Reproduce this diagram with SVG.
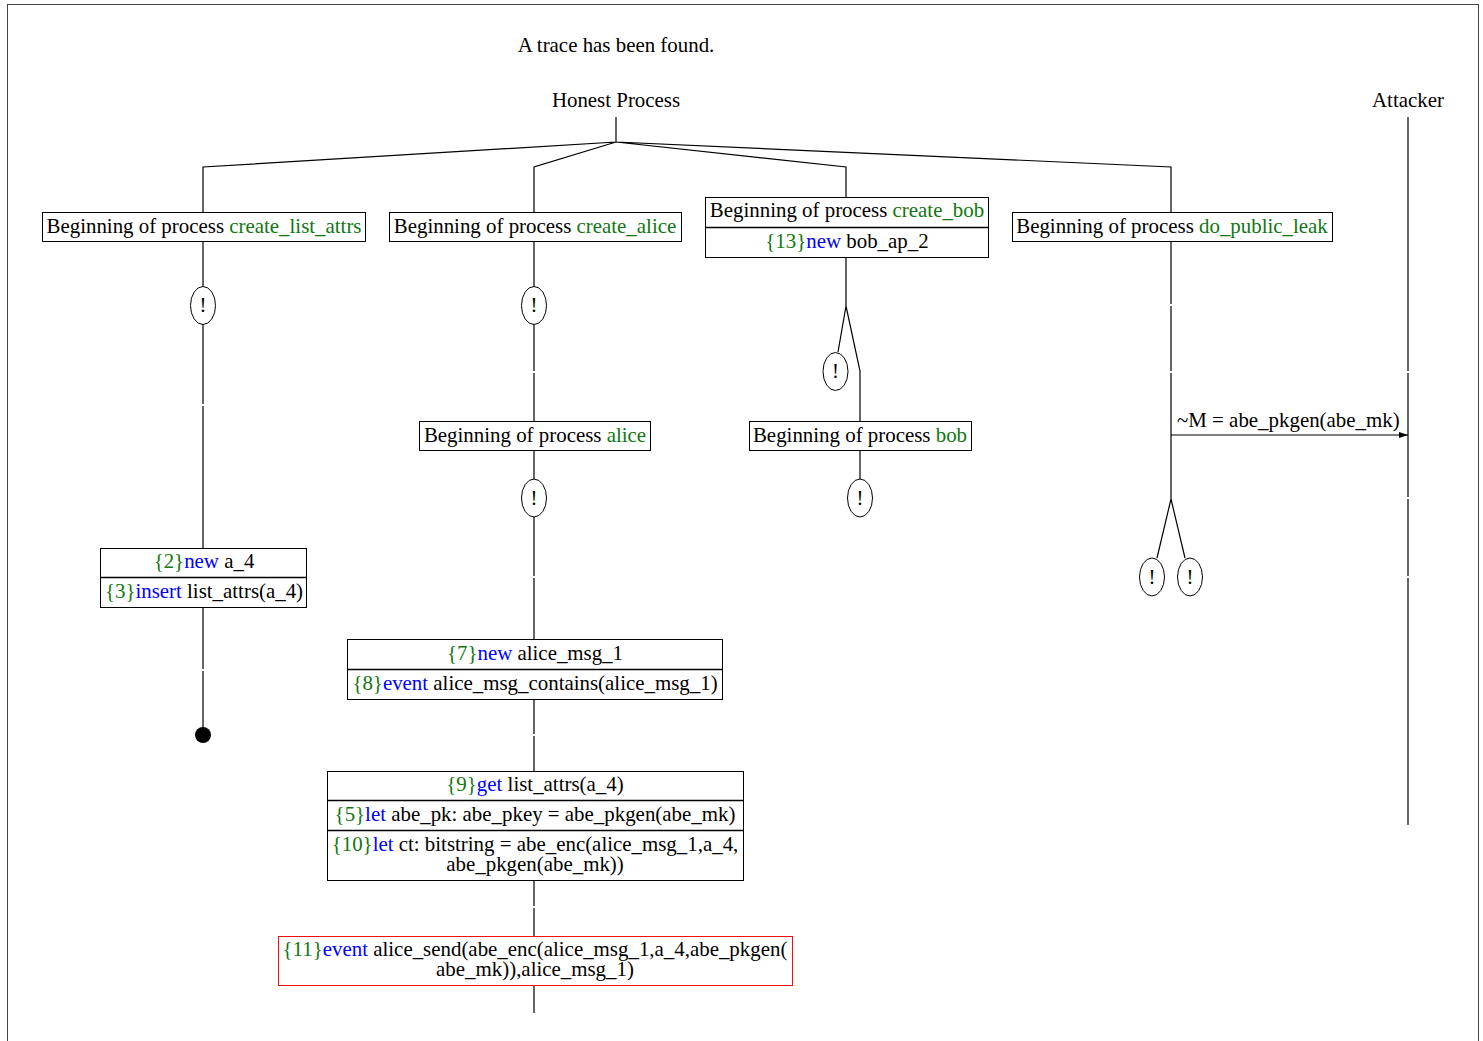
<svg xmlns="http://www.w3.org/2000/svg" width="1483" height="1041" viewBox="0 0 1483 1041">
<style>
text{font-family:"Liberation Serif","Times New Roman",serif;font-size:20.9px;fill:#000}
.c{text-anchor:middle}
.g{fill:#117711}
.b{fill:#0000ff}
.box{fill:#fff;stroke:#000;stroke-width:1}
.red{fill:#fff;stroke:#ee1111;stroke-width:1}
.ln{stroke:#000;stroke-width:1.2;fill:none}
.ell{fill:#fff;stroke:#000;stroke-width:1}
</style>
<defs>
<marker id="ah" markerWidth="10" markerHeight="8" refX="9" refY="4" orient="auto" markerUnits="userSpaceOnUse">
<path d="M0,1 L9,4 L0,7 z" fill="#000"/>
</marker>
</defs>
<rect x="7.5" y="4.5" width="1471" height="1060" fill="#fff" stroke="#444" stroke-width="1"/>
<text class="c" x="616" y="52">A trace has been found.</text>
<g id="honest"><text class="c" x="616" y="107">Honest Process</text></g>
<g id="attacker"><text class="c" x="1408" y="107">Attacker</text></g>
<g id="connectors">
<path class="ln" d="M616,117 V142 M616,142 L203,167 V212 M616,142 L534,167 V212 M616,142 L846,167 V197 M616,142 L1171,167 V212"/>
<path class="ln" d="M203,241 V287 M203,324 V404 M203,406 V548 M203,607 V669 M203,671 V735"/>
<path class="ln" d="M534,241 V287 M534,324 V371 M534,373 V421 M534,450 V479 M534,517 V576 M534,578 V639 M534,699 V734 M534,736 V771 M534,880 V906 M534,908 V936 M534,985 V1013"/>
<path class="ln" d="M846,257 V306 L838,352 M846,306 L860,371 V421 M860,450 V479"/>
<path class="ln" d="M1171,241 V304 M1171,306 V371 M1171,373 V499 L1157,558 M1171,499 L1185,558"/>
<path class="ln" d="M1408,117 V371 M1408,373 V497 M1408,499 V576 M1408,578 V825"/>
<path class="ln" d="M1171,435 H1408" marker-end="url(#ah)"/>
<text x="1177" y="427">~M = abe_pkgen(abe_mk)</text>
</g>
<g id="n_create_list_attrs">
<rect class="box" x="42.5" y="212.5" width="323" height="29"/>
<text class="c" x="204" y="233">Beginning of process <tspan class="g">create_list_attrs</tspan></text>
</g>
<g id="n_create_alice">
<rect class="box" x="389.5" y="212.5" width="292" height="29"/>
<text class="c" x="535" y="233">Beginning of process <tspan class="g">create_alice</tspan></text>
</g>
<g id="n_create_bob">
<rect class="box" x="705.5" y="197.5" width="283" height="60"/>
<line x1="705.5" y1="227.5" x2="988.5" y2="227.5" stroke="#000" stroke-width="1.5"/>
<text class="c" x="847" y="217">Beginning of process <tspan class="g">create_bob</tspan></text>
<text class="c" x="847" y="248"><tspan class="g">{13}</tspan><tspan class="b">new</tspan> bob_ap_2</text>
</g>
<g id="n_do_public_leak">
<rect class="box" x="1012.5" y="212.5" width="320" height="29"/>
<text class="c" x="1172" y="233">Beginning of process <tspan class="g">do_public_leak</tspan></text>
</g>
<g id="e1"><ellipse class="ell" cx="203" cy="305.5" rx="12.5" ry="19"/><text class="c" x="203" y="312">!</text></g>
<g id="e2"><ellipse class="ell" cx="534" cy="305.5" rx="12.5" ry="19"/><text class="c" x="534" y="312">!</text></g>
<g id="e3"><ellipse class="ell" cx="835.5" cy="371.5" rx="12.5" ry="19"/><text class="c" x="835.5" y="378">!</text></g>
<g id="e4"><ellipse class="ell" cx="534" cy="498" rx="12.5" ry="19"/><text class="c" x="534" y="505">!</text></g>
<g id="e5"><ellipse class="ell" cx="860" cy="498" rx="12.5" ry="19"/><text class="c" x="860" y="505">!</text></g>
<g id="e6"><ellipse class="ell" cx="1152" cy="577" rx="12.5" ry="19"/><text class="c" x="1152" y="584">!</text></g>
<g id="e7"><ellipse class="ell" cx="1190" cy="577" rx="12.5" ry="19"/><text class="c" x="1190" y="584">!</text></g>
<g id="n_alice">
<rect class="box" x="419.5" y="421.5" width="231" height="29"/>
<text class="c" x="535" y="442">Beginning of process <tspan class="g">alice</tspan></text>
</g>
<g id="n_bob">
<rect class="box" x="749.5" y="421.5" width="222" height="29"/>
<text class="c" x="860" y="442">Beginning of process <tspan class="g">bob</tspan></text>
</g>
<g id="n_a4">
<rect class="box" x="100.5" y="548.5" width="206" height="59"/>
<line x1="100.5" y1="577.5" x2="306.5" y2="577.5" stroke="#000" stroke-width="1.5"/>
<text class="c" x="204" y="568"><tspan class="g">{2}</tspan><tspan class="b">new</tspan> a_4</text>
<text class="c" x="204" y="598"><tspan class="g">{3}</tspan><tspan class="b">insert</tspan> list_attrs(a_4)</text>
</g>
<g id="end1"><circle cx="203" cy="735" r="8" fill="#000"/></g>
<g id="n_msg">
<rect class="box" x="347.5" y="639.5" width="375" height="60"/>
<line x1="347.5" y1="669.5" x2="722.5" y2="669.5" stroke="#000" stroke-width="1.5"/>
<text class="c" x="535" y="660"><tspan class="g">{7}</tspan><tspan class="b">new</tspan> alice_msg_1</text>
<text class="c" x="535" y="690"><tspan class="g">{8}</tspan><tspan class="b">event</tspan> alice_msg_contains(alice_msg_1)</text>
</g>
<g id="n_get">
<rect class="box" x="327.5" y="771.5" width="416" height="109"/>
<line x1="327.5" y1="800.5" x2="743.5" y2="800.5" stroke="#000" stroke-width="1.5"/>
<line x1="327.5" y1="830.5" x2="743.5" y2="830.5" stroke="#000" stroke-width="1.5"/>
<text class="c" x="535" y="791"><tspan class="g">{9}</tspan><tspan class="b">get</tspan> list_attrs(a_4)</text>
<text class="c" x="535" y="821"><tspan class="g">{5}</tspan><tspan class="b">let</tspan> abe_pk: abe_pkey = abe_pkgen(abe_mk)</text>
<text class="c" x="535" y="851"><tspan class="g">{10}</tspan><tspan class="b">let</tspan> ct: bitstring = abe_enc(alice_msg_1,a_4,</text>
<text class="c" x="535" y="871">abe_pkgen(abe_mk))</text>
</g>
<g id="n_send">
<rect class="red" x="278.5" y="936.5" width="514" height="49"/>
<text class="c" x="535" y="956"><tspan class="g">{11}</tspan><tspan class="b">event</tspan> alice_send(abe_enc(alice_msg_1,a_4,abe_pkgen(</text>
<text class="c" x="535" y="976">abe_mk)),alice_msg_1)</text>
</g>
</svg>
